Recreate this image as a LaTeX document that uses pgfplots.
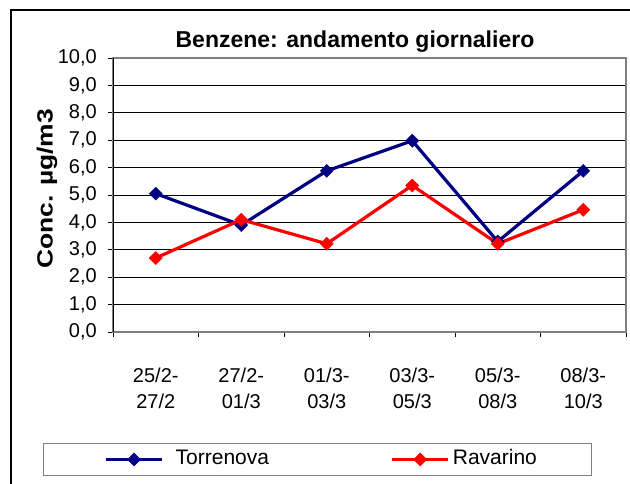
\documentclass[border=0pt]{standalone}
\usepackage{pgfplots}
\pgfplotsset{compat=1.18}
\usepackage{fontspec}
\setmainfont{Liberation Sans}
\definecolor{tblue}{HTML}{000080}
\definecolor{rred}{HTML}{FF0000}
\definecolor{bordgray}{HTML}{808080}
\newcommand{\tickfont}{\fontsize{20bp}{22bp}\selectfont}
\begin{document}
\begin{tikzpicture}
\begin{axis}[
  at={(113bp,152bp)}, anchor=south west,
  scale only axis, width=513bp, height=274bp,
  xmin=-0.5, xmax=5.5, ymin=0, ymax=10,
  xtick pos=bottom, ytick pos=left,
  xtick={-0.5,0.5,1.5,2.5,3.5,4.5,5.5},
  xticklabels={},
  extra x ticks={0,1,2,3,4,5},
  extra x tick labels={{25/2-\\[4bp]27/2},{27/2-\\[4bp]01/3},{01/3-\\[4bp]03/3},{03/3-\\[4bp]05/3},{05/3-\\[4bp]08/3},{08/3-\\[4bp]10/3}},
  extra x tick style={major tick length=0pt, xmajorgrids=false},
  xticklabel style={font=\tickfont, align=center, anchor=north, inner sep=0pt, yshift=-36bp},
  ytick={0,1,...,10},
  yticklabel style={font=\tickfont, anchor=east, inner sep=0pt, xshift=-11bp,
    /pgf/number format/fixed, /pgf/number format/fixed zerofill,
    /pgf/number format/precision=1, /pgf/number format/use comma},
  /pgf/number format/assume math mode=true,
  tick align=outside, major tick length=5bp,
  tick style={black, line width=0.8bp},
  ymajorgrids=true,
  major grid style={black, line width=0.8bp},
  axis line style={bordgray, line width=1.3bp},
  ylabel={\scalebox{1.2}[1]{Conc. µg/m3}},
  every axis y label/.style={at={(axis description cs:-0.1287,0.522)}, rotate=90, anchor=center,
    font=\bfseries\fontsize{22bp}{26bp}\selectfont},
  title={Benzene: andamento giornaliero},
  every axis title/.style={at={(axis description cs:0.4717,1.0365)}, anchor=base,
    font=\bfseries\fontsize{23bp}{27bp}\selectfont},
  legend columns=2,
  legend cell align=left,
  legend image code/.code={\path (-61bp,0bp);
    \draw[#1, mark repeat=2, mark phase=2] plot coordinates {(0bp,0bp) (28bp,0bp) (56bp,0bp)};},
  legend style={at={(axis description cs:-0.1365,-0.405)}, anchor=north west,
    draw=bordgray, line width=1bp, inner xsep=0pt, inner ysep=6bp, column sep=0pt,
    nodes={inner sep=0pt, text height=15bp, text depth=5bp, font=\fontsize{21bp}{24bp}\selectfont}},
]
\addplot[tblue, line width=3.2bp, mark=square*, mark size=4.6bp,
  mark options={rotate=45, solid, fill=tblue, draw=tblue, line width=0.5bp}]
  coordinates {(0,5.05) (1,3.9) (2,5.88) (3,6.98) (4,3.3) (5,5.88)};
\addlegendentry{\makebox[166bp][l]{\hspace{12bp}Torrenova}}
\addplot[rred, line width=3.2bp, mark=square*, mark size=4.6bp,
  mark options={rotate=45, solid, fill=rred, draw=rred, line width=0.5bp}]
  coordinates {(0,2.7) (1,4.1) (2,3.22) (3,5.35) (4,3.22) (5,4.46)};
\addlegendentry{\makebox[142bp][l]{\hspace{3bp}Ravarino}}
\draw[black, line width=0.9bp] (rel axis cs:0,1) -- (rel axis cs:0,0) -- (rel axis cs:1,0);
\end{axis}
\draw[black, line width=1.2bp] (11bp,-20bp) -- (11bp,474bp) -- (660bp,474bp);
\pgfresetboundingbox
\path[use as bounding box] (0bp,0bp) rectangle (630bp,484bp);
\end{tikzpicture}
\end{document}
